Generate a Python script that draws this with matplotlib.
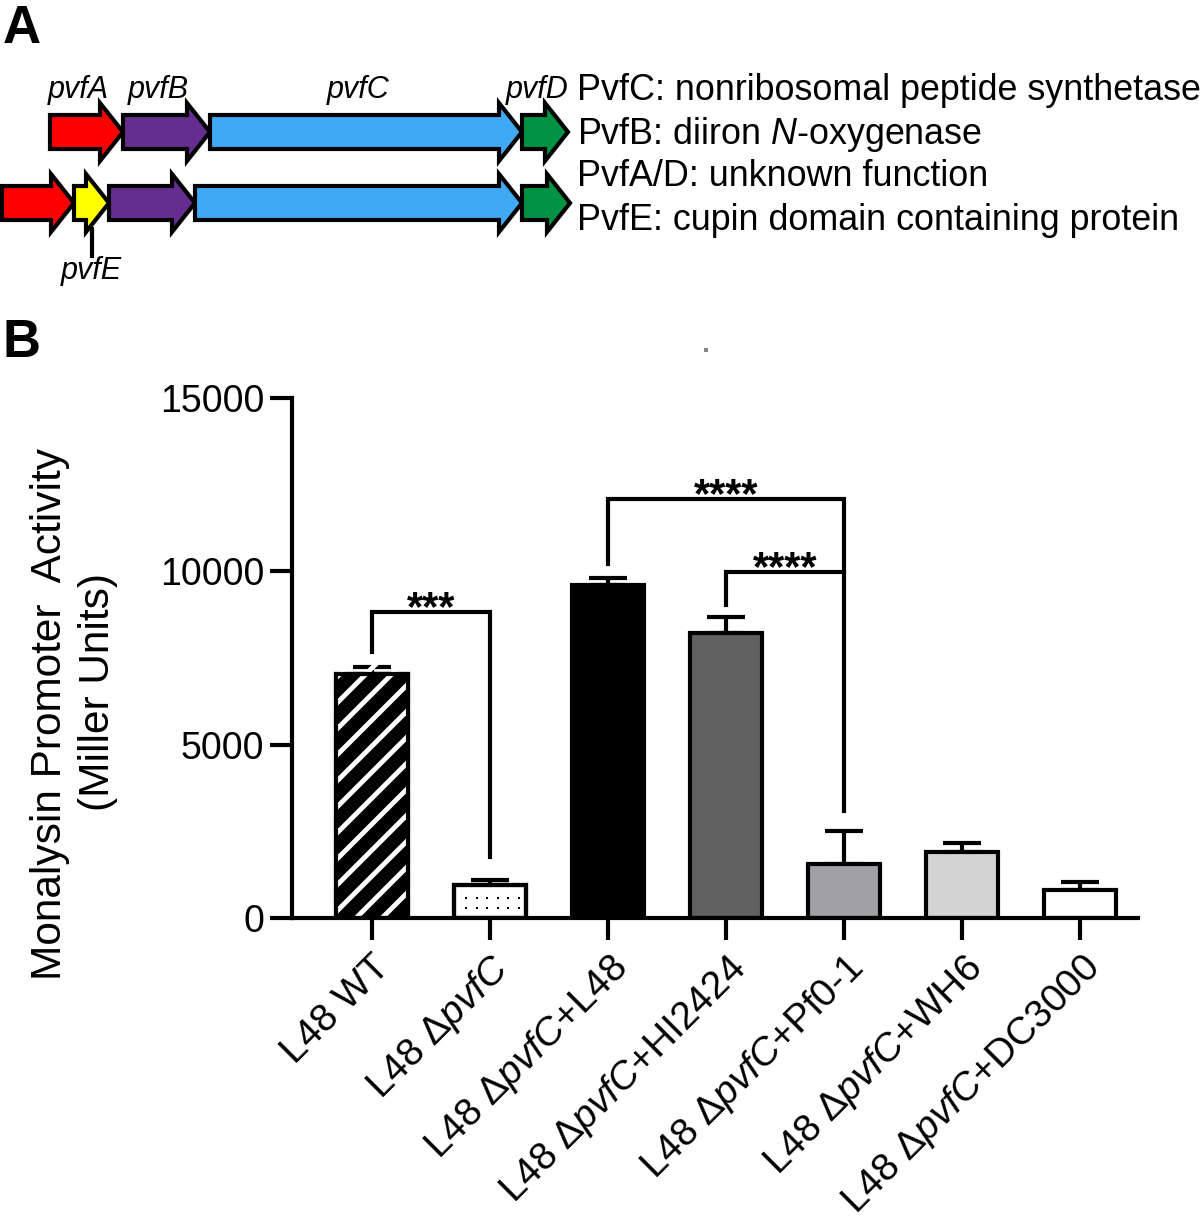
import numpy as np
import matplotlib
matplotlib.use('Agg')
import matplotlib.pyplot as plt
from matplotlib.patches import Polygon, Rectangle
from matplotlib.lines import Line2D
from matplotlib.transforms import IdentityTransform

plt.rcParams['font.family'] = ['Liberation Sans', 'DejaVu Sans']
plt.rcParams['mathtext.fontset'] = 'custom'
plt.rcParams['mathtext.rm'] = 'Liberation Sans'
plt.rcParams['mathtext.it'] = 'Liberation Sans:italic'

# ---- panel A: gene clusters (lengths in drawing pixels) ----
row1_genes = ['pvfA', 'pvfB', 'pvfC', 'pvfD']
row1_lengths = [73, 87, 312, 46]
row1_colors = ['#ff0000', '#662d91', '#3fa9f5', '#009245']

row2_genes = ['pvfA', 'pvfE', 'pvfB', 'pvfC', 'pvfD']
row2_lengths = [72, 35, 86, 327, 48]
row2_colors = ['#ff0000', '#ffff00', '#662d91', '#3fa9f5', '#009245']

gene_notes = ['PvfC: nonribosomal peptide synthetase',
              'PvfB: diiron $\\mathit{N}$-oxygenase',
              'PvfA/D: unknown function',
              'PvfE: cupin domain containing protein']

# ---- panel B: promoter activity ----
strains = ['L48 WT',
           'L48 Δ$\\mathit{pvfC}$',
           'L48 Δ$\\mathit{pvfC}$+L48',
           'L48 Δ$\\mathit{pvfC}$+HI2424',
           'L48 Δ$\\mathit{pvfC}$+Pf0-1',
           'L48 Δ$\\mathit{pvfC}$+WH6',
           'L48 Δ$\\mathit{pvfC}$+DC3000']
activity = [7040, 950, 9600, 8220, 1560, 1900, 810]
activity_err = [200, 150, 200, 460, 940, 260, 230]
bar_colors = ['black', 'white', 'black', '#606060', '#a1a1a5', '#d3d3d3', 'white']

# (left bar, right bar, bracket height, left leg end, right leg end, stars)
comparisons = [(0, 1, 8830, 7670, 1760, '***'),
               (2, 4, 12090, 10210, 3090, '****'),
               (3, 4, 9980, 9030, 9980, '****')]


def gene_arrow(ax, x0, x1, yc, color, body=17, head=29, head_len=23):
    hx = x1 - min(head_len, x1 - x0)
    pts = [(x0, yc - body), (hx, yc - body), (hx, yc - head), (x1, yc),
           (hx, yc + head), (hx, yc + body), (x0, yc + body)]
    ax.add_patch(Polygon(pts, closed=True, facecolor=color, edgecolor='black',
                         linewidth=3, joinstyle='miter'))


def bar_box(ax, i, width):
    return ax.transData.transform([(pos[i] - width / 2, 0),
                                   (pos[i] + width / 2, activity[i])])


fig = plt.figure(figsize=(12, 12.23), dpi=100)

# pixel-space overlay for panel A and panel letters
ax_a = fig.add_axes([0, 0, 1, 1])
ax_a.set_xlim(0, 1200)
ax_a.set_ylim(1223, 0)
ax_a.axis('off')

x = 50
for name, length, color in zip(row1_genes, row1_lengths, row1_colors):
    gene_arrow(ax_a, x, x + length, 132, color)
    ax_a.text(x + length / 2 - 8, 90, name, fontsize=22, style='italic',
              ha='center', va='center')
    x += length

x = 2
for name, length, color in zip(row2_genes, row2_lengths, row2_colors):
    gene_arrow(ax_a, x, x + length, 203, color)
    if name == 'pvfE':
        mid = x + length / 2
        ax_a.plot([mid, mid], [229, 256], color='black', lw=3)
        ax_a.text(mid, 271, name, fontsize=22, style='italic',
                  ha='center', va='center')
    x += length

for i, note in enumerate(gene_notes):
    ax_a.text(577, 91 + 43 * i, note, fontsize=25.8, ha='left', va='center')

ax_a.text(3, 43, 'A', fontsize=38, fontweight='bold', ha='left', va='baseline')
ax_a.text(3, 357, 'B', fontsize=38, fontweight='bold', ha='left', va='baseline')
ax_a.add_patch(Rectangle((704, 348), 4, 4, color='#888888', lw=0))

# ---- panel B axes ----
ax = fig.add_axes([292 / 1200, 305 / 1223, 846 / 1200, 520 / 1223])
ax.set_facecolor('none')
pos = np.arange(len(strains))
bw = 0.61
ax.set_xlim(-0.678, 6.49)
ax.set_ylim(0, 15000)

ax.errorbar(pos, activity, yerr=[np.zeros(len(pos)), activity_err], fmt='none',
            ecolor='black', elinewidth=3, capsize=14, capthick=3, zorder=1)
bars = ax.bar(pos, activity, width=bw, color=bar_colors, edgecolor='black',
              linewidth=3, zorder=2)

# white diagonal stripes on the WT bar
(bx0, by0), (bx1, by1) = bar_box(ax, 0, bw)
for c in np.arange(by0 - bx1, by1 - bx0, 26):
    ln = Line2D([bx0, bx1], [bx0 + c, bx1 + c], transform=IdentityTransform(),
                color='white', lw=3.5, zorder=2.5)
    ln.set_clip_path(bars[0])
    ax.add_line(ln)

# fine dot fill on the deletion mutant bar
(dx0, dy0), (dx1, dy1) = bar_box(ax, 1, bw)
gx, gy = np.meshgrid(np.arange(dx0 + 12, dx1 - 4, 10.5),
                     np.arange(dy0 + 10, dy1 - 4, 10))
dots = ax.scatter(gx.ravel(), gy.ravel(), s=3, marker='s', color='black',
                  linewidths=0, transform=IdentityTransform(), zorder=2.5)
dots.set_clip_path(bars[1])

for i in [0, 1]:
    ax.bar(pos[i], activity[i], width=bw, fill=False, edgecolor='black',
           linewidth=3, zorder=3)

for left, right, h, yl, yr, stars in comparisons:
    ax.plot([pos[left], pos[left], pos[right], pos[right]], [yl, h, h, yr],
            color='black', lw=3, solid_joinstyle='miter', clip_on=False, zorder=4)
    ax.text((pos[left] + pos[right]) / 2, h - 230, stars, fontsize=30,
            fontweight='bold', ha='center', va='baseline')

for side in ['top', 'right']:
    ax.spines[side].set_visible(False)
for side in ['left', 'bottom']:
    ax.spines[side].set_linewidth(3)
ax.spines['left'].set_bounds(0, 15000)

ax.set_yticks([0, 5000, 10000, 15000])
ax.tick_params(axis='both', length=16, width=3, labelsize=27, pad=4)
ax.tick_params(axis='x', labelsize=28, pad=6)
ax.set_xticks(pos)
ax.set_xticklabels(strains, rotation=45, ha='right', va='top',
                   rotation_mode='anchor')

fig.text(50 / 1200, 1 - 714 / 1223, 'Monalysin Promoter  Activity', rotation=90,
         fontsize=30.5, ha='center', va='center')
fig.text(98 / 1200, 1 - 692 / 1223, '(Miller Units)', rotation=90,
         fontsize=30.5, ha='center', va='center')

fig.savefig('out.png', dpi=100)
